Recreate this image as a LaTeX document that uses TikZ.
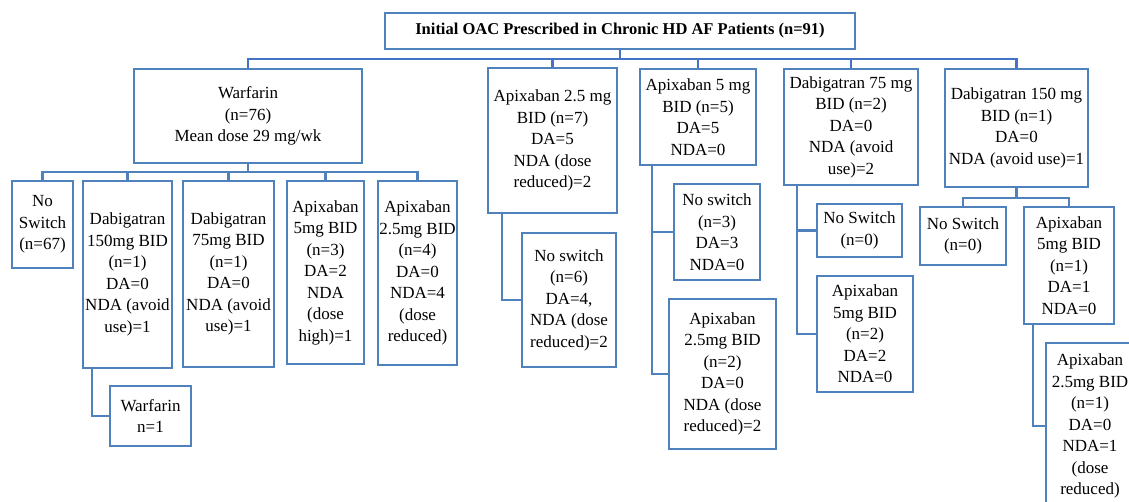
\documentclass[tikz,border=0pt]{standalone}
\usepackage{fontspec}
\setmainfont{Liberation Serif}
\usetikzlibrary{positioning}
\definecolor{boxblue}{RGB}{79,129,189}
\definecolor{busblue}{RGB}{68,114,196}

\begin{document}
\begin{tikzpicture}[
    x=1pt, y=-1pt,
    block/.style={rectangle, draw=boxblue, line width=2.5pt, align=center, inner sep=1pt, font=\fontsize{17}{21.5}\selectfont},
    link/.style={draw=boxblue, line width=2.4pt},
    bus/.style={draw=busblue, line width=2.8pt}
]
\useasboundingbox (0,0) rectangle (1129,502);

% top level
\node (initial) [block, minimum width=470pt, minimum height=36pt, font=\bfseries\fontsize{16.5}{20}\selectfont] at (620,31) {Initial OAC Prescribed in Chronic HD AF Patients (n=91)};

\node (warfarin) [block, minimum width=228pt, minimum height=94pt] at (248,116) {Warfarin\\(n=76)\\Mean dose 29 mg/wk};
\node (apixlow) [block, minimum width=129pt, minimum height=145pt] at (552.5,140.5) {Apixaban 2.5 mg\\BID (n=7)\\DA=5\\NDA (dose\\reduced)=2};
\node (apixhigh) [block, minimum width=116pt, minimum height=96pt] at (698,117) {Apixaban 5 mg\\BID (n=5)\\DA=5\\NDA=0};
\node (dabiglow) [block, minimum width=134pt, minimum height=116pt] at (851,127) {Dabigatran 75 mg\\BID (n=2)\\DA=0\\NDA (avoid\\use)=2};
\node (dabighigh) [block, minimum width=143pt, minimum height=118pt] at (1016.5,128) {Dabigatran 150 mg\\BID (n=1)\\DA=0\\NDA (avoid use)=1};

% switches from warfarin
\node (warfnone) [block, minimum width=61pt, minimum height=87pt] at (42.5,224.5) {No\\Switch\\(n=67)};
\node (warfdabhigh) [block, minimum width=89pt, minimum height=187pt] at (127.5,274.5) {Dabigatran\\150mg BID\\(n=1)\\DA=0\\NDA (avoid\\use)=1};
\node (warfdablow) [block, minimum width=91pt, minimum height=186pt] at (228.5,274) {Dabigatran\\75mg BID\\(n=1)\\DA=0\\NDA (avoid\\use)=1};
\node (warfapixhigh) [block, minimum width=77pt, minimum height=183pt] at (325.5,272.5) {Apixaban\\5mg BID\\(n=3)\\DA=2\\NDA\\(dose\\high)=1};
\node (warfapixlow) [block, minimum width=79pt, minimum height=184pt] at (417.5,273) {Apixaban\\2.5mg BID\\(n=4)\\DA=0\\NDA=4\\(dose\\reduced)};
\node (backwarf) [block, minimum width=81pt, minimum height=60pt] at (150.5,416) {Warfarin\\n=1};

% switches from apixaban 2.5 mg
\node (apixlownone) [block, minimum width=94pt, minimum height=134pt] at (569,300) {No switch\\(n=6)\\DA=4,\\NDA (dose\\reduced)=2};

% switches from apixaban 5 mg
\node (apixhighnone) [block, minimum width=86pt, minimum height=96pt] at (717,232) {No switch\\(n=3)\\DA=3\\NDA=0};
\node (apixhighlow) [block, minimum width=107pt, minimum height=150pt] at (722.5,374) {Apixaban\\2.5mg BID\\(n=2)\\DA=0\\NDA (dose\\reduced)=2};

% switches from dabigatran 75 mg
\node (dabiglownone) [block, minimum width=85pt, minimum height=53pt] at (859.5,230.5) {No Switch\\(n=0)};
\node (dabiglowapix) [block, minimum width=96pt, minimum height=116pt] at (865,334) {Apixaban\\5mg BID\\(n=2)\\DA=2\\NDA=0};

% switches from dabigatran 150 mg
\node (dabighighnone) [block, minimum width=86pt, minimum height=58pt] at (963,236) {No Switch\\(n=0)};
\node (dabighighapix) [block, minimum width=90pt, minimum height=117pt] at (1069,265.5) {Apixaban\\5mg BID\\(n=1)\\DA=1\\NDA=0};
\node (dabighighapixlow) [block, minimum width=88pt, minimum height=166pt] at (1090,426) {Apixaban\\2.5mg BID\\(n=1)\\DA=0\\NDA=1\\(dose\\reduced)};

\coordinate (topbus) at (620,59);
\coordinate (warfbus) at (248,172);
\coordinate (dabigbus) at (1016.5,198);

\draw [bus] (initial.south) -- (topbus);
\draw [bus] (topbus) -| (warfarin.north);
\draw [bus] (topbus) -| (apixlow.north);
\draw [bus] (topbus) -| (apixhigh.north);
\draw [bus] (topbus) -| (dabiglow.north);
\draw [bus] (topbus) -| (dabighigh.north);

\draw [link] (warfarin.south) -- (warfbus);
\draw [link] (warfbus) -| (warfnone.north);
\draw [link] (warfbus) -| (warfdabhigh.north);
\draw [link] (warfbus) -| (warfdablow.north);
\draw [link] (warfbus) -| (warfapixhigh.north);
\draw [link] (warfbus) -| (warfapixlow.north);
\draw [link] ([xshift=-35.5pt]warfdabhigh.south) |- (backwarf.west);

\draw [link] ([xshift=-50.5pt]apixlow.south) |- (apixlownone.west);

\draw [link] ([xshift=-46pt]apixhigh.south) |- (apixhighnone.west);
\draw [link] ([xshift=-46pt]apixhigh.south) |- (apixhighlow.west);

\draw [link] ([xshift=-54pt]dabiglow.south) |- (dabiglownone.west);
\draw [link] ([xshift=-54pt]dabiglow.south) |- (dabiglowapix.west);

\draw [link] (dabighigh.south) -- (dabigbus);
\draw [link] (dabigbus) -| (dabighighnone.north);
\draw [link] (dabigbus) -| (dabighighapix.north);
\draw [link] ([xshift=-36pt]dabighighapix.south) |- (dabighighapixlow.west);

\end{tikzpicture}
\end{document}
